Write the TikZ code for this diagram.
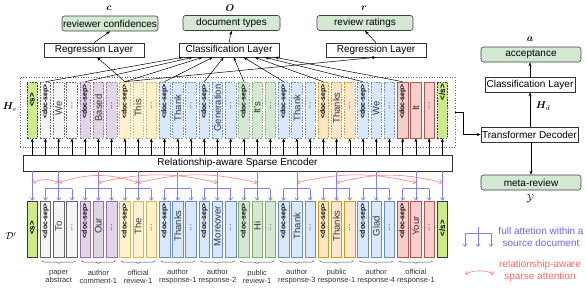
\documentclass[tikz,border=0pt]{standalone}
\usepackage{fontspec}
\setmainfont{Liberation Sans}
\usepackage{bm}
\usetikzlibrary{arrows.meta,decorations.pathreplacing,calc}
\definecolor{grayF}{HTML}{F5F5F5}\definecolor{grayD}{HTML}{666666}
\definecolor{purpF}{HTML}{E1D5E7}\definecolor{purpD}{HTML}{9673A6}
\definecolor{yelF}{HTML}{FFF2CC}\definecolor{yelD}{HTML}{D6B656}
\definecolor{bluF}{HTML}{DAE8FC}\definecolor{bluD}{HTML}{6C8EBF}
\definecolor{grnF}{HTML}{D5E8D4}\definecolor{grnD}{HTML}{82B366}
\definecolor{orgF}{HTML}{FFE6CC}\definecolor{orgD}{HTML}{D79B00}
\definecolor{redF}{HTML}{F8CECC}\definecolor{redD}{HTML}{B85450}
\definecolor{sF}{HTML}{CDEB8B}\definecolor{sD}{HTML}{36393D}
\definecolor{outF}{HTML}{D5E8D4}
\definecolor{attnB}{HTML}{7F7FFF}
\definecolor{attnR}{HTML}{FF7F7F}
\definecolor{legB}{HTML}{6666FF}
\definecolor{legR}{HTML}{FF6666}
\definecolor{txt}{HTML}{333333}
\begin{document}
\begin{tikzpicture}[x=1pt,y=-1pt,
  every node/.style={inner sep=0pt},
  font=\fontsize{10}{12}\selectfont,
  lay/.style={draw=black!80, fill=white, minimum width=#1, minimum height=14pt, line width=0.6pt},
  lay/.default=100pt,
  outb/.style={draw=black!75, fill=outF, rounded corners=2.5pt, minimum width=#1, minimum height=15pt, line width=0.6pt},
  outb/.default=100pt,
  tok/.style={minimum width=10.5pt, minimum height=56pt, line width=0.6pt},
  cgray/.style={fill=grayF, draw=grayD},
  cpurp/.style={fill=purpF, draw=purpD},
  cyel/.style={fill=yelF, draw=yelD},
  cblu/.style={fill=bluF, draw=bluD},
  cgrn/.style={fill=grnF, draw=grnD},
  corg/.style={fill=orgF, draw=orgD},
  cred/.style={fill=redF, draw=redD},
  cs/.style={fill=sF, draw=sD},
  dsh/.style={dash pattern=on 1.6pt off 1.2pt},
  dsep/.style={rotate=90, font=\bfseries\fontsize{6.9}{7}\selectfont, anchor=east},
  wrd/.style={rotate=90, font=\fontsize{9.5}{10}\selectfont, text=txt},
  dts/.style={rotate=90, font=\fontsize{8.5}{9}\selectfont, text=txt},
  sps/.style={rotate=90, font=\bfseries\fontsize{8}{9}\selectfont},
  ar/.style={-{Stealth[length=4pt,width=3pt]}, black, line width=0.5pt},
  bl/.style={draw=attnB, line width=0.7pt},
  bla/.style={bl, -{Straight Barb[length=2.5pt,width=4pt]}},
  rda/.style={draw=attnR, line width=0.6pt, {Straight Barb[length=2.5pt,width=4pt]}-{Straight Barb[length=2.5pt,width=4pt]}},
  brc/.style={decorate, decoration={brace, mirror, amplitude=2.5pt}, draw=black!70, line width=0.5pt},
  glab/.style={align=center, text=txt, font=\fontsize{7.5}{8}\selectfont}
]
\useasboundingbox (0,0) rectangle (586,290);

% H_e dotted frame
\node[draw=black!60, dotted, line width=0.6pt, minimum width=435pt, minimum height=70pt] (hebox) at (237.5,112) {};
\node (helab) at (10,107) {$\bm{H}_e$};
\node (dlab) at (11,236) {$\mathcal{D}'$};

% encoder
\node[lay=429pt, minimum height=16pt] (enc) at (237.5,163) {Relationship-aware Sparse Encoder};

% <s> and </s>
\node[tok, cs, dsh] (tS) at (32.25,110) {};
\node[sps] at (32.25,100) {<s>};
\node[tok, cs] (bS) at (32.25,229) {};
\node[sps] at (32.25,228) {<s>};
\node[tok, cs, dsh] (tE) at (442.38,110) {};
\node[sps] at (442.38,92) {</s>};
\node[tok, cs] (bE) at (442.38,229) {};
\node[sps] at (442.38,228) {</s>};
\draw[ar] (enc.north -| tS.south) -- (tS.south);
\draw[ar] (enc.north -| tE.south) -- (tE.south);
\draw[bla] (enc.south -| bS.north) -- (bS.north);
\draw[bla] (enc.south -| bE.north) -- (bE.north);

\foreach \k/\c/\tb/\tw/\bw/\lab in {
  1/cgray/dsh/We/To/paper\\abstract,
  2/cpurp/dsh/Based/Our/author\\comment-1,
  3/cyel/dsh/This/The/official\\review-1,
  4/cblu/dsh/Thank/Thanks/author\\response-1,
  5/cblu/dsh/Generation/Moreover/author\\response-2,
  6/cgrn/dsh/It's/Hi/public\\review-1,
  7/cblu/dsh/Thank/Thank/author\\response-3,
  8/corg/dsh/Thanks/Thanks/public\\response-1,
  9/cblu/dsh/We/Glad/author\\response-4,
  10/cred/solid/It/Your/official\\response-1}{
  \pgfmathsetmacro\xa{32.25+(3*\k-2)*13.23}
  \pgfmathsetmacro\xb{\xa+13.23}
  \pgfmathsetmacro\xc{\xa+26.46}
  % top row
  \node[tok,\c,\tb] (ta\k) at (\xa,110) {};
  \node[tok,\c,\tb] (tb\k) at (\xb,110) {};
  \node[tok,\c,\tb] (tc\k) at (\xc,110) {};
  \node[dsep] at (\xa,84) {<doc-sep>};
  \node[wrd] at (\xb,108) {\tw};
  \node[dts] at (\xc,106) {...};
  % bottom row
  \node[tok,\c] (ba\k) at (\xa,229) {};
  \node[tok,\c] (bb\k) at (\xb,229) {};
  \node[tok,\c] (bc\k) at (\xc,229) {};
  \node[dsep] at (\xa,203.5) {<doc-sep>};
  \node[wrd] at (\xb,226) {\bw};
  \node[dts] at (\xc,228) {...};
  % encoder to top
  \draw[ar] (enc.north -| ta\k.south) -- (ta\k.south);
  \draw[ar] (enc.north -| tb\k.south) -- (tb\k.south);
  \draw[ar] (enc.north -| tc\k.south) -- (tc\k.south);
  % encoder to bottom (full attention)
  \draw[bla] (enc.south -| bb\k.north) -- (bb\k.north);
  \draw[bl] ([yshift=12pt]ba\k.north) -- ([yshift=12pt]bc\k.north);
  \draw[bla] ([yshift=12pt]ba\k.north) -- (ba\k.north);
  \draw[bla] ([yshift=12pt]bc\k.north) -- (bc\k.north);
  % brace and label
  \draw[brc] ([xshift=1.5pt,yshift=-3.5pt]ba\k.south west) -- ([xshift=-1.5pt,yshift=-3.5pt]bc\k.south east);
  \node[glab] (gl\k) at (\xb,277) {\lab};
}

% relationship-aware sparse attention arcs
\draw[rda] ([yshift=18pt]bS.north) to[bend left=23] ([yshift=18pt]bb1.north);
\draw[rda] ([yshift=18pt]bb1.north) to[bend left=18] ([yshift=18pt]bb3.north);
\draw[rda] ([yshift=18pt]bb2.north) to[bend left=13] ([yshift=18pt]bb5.north);
\draw[rda] ([yshift=18pt]bb3.north) to[bend left=13] ([yshift=18pt]bb6.north);
\draw[rda] ([yshift=18pt]bb7.north) to[bend left=13] ([yshift=18pt]bb10.north);
\draw[rda] ([yshift=18pt]bb8.north) to[bend left=14] ([yshift=18pt]bE.north);

% top heads
\node[lay] (regl) at (94,50) {Regression Layer};
\node[lay] (clsl) at (229,50) {Classification Layer};
\node[lay] (regr) at (376,50) {Regression Layer};
\node[outb=96pt] (conf) at (110,23.5) {reviewer confidences};
\node[outb=97pt] (dtyp) at (231.5,23) {document types};
\node[outb=96pt] (rrat) at (365,23) {review ratings};
\node (clab) at (109,8) {$\bm{c}$};
\node (olab) at (230,8) {$\bm{O}$};
\node (rlab) at (364,8) {$\bm{r}$};
\draw[ar] (regl.north) -- (conf.south);
\draw[ar] (clsl.north) -- (dtyp.south);
\draw[ar] (regr.north) -- (rrat.south);

% doc-sep tokens to heads
\foreach \k/\off in {1/4,2/14,3/24,4/34,5/45,6/55,7/65,8/76,9/86,10/96}{
  \draw[ar] (ta\k.north) -- ([xshift=\off pt]clsl.south west);
}
\draw[ar] (ta3.north) -- ([xshift=3pt]regl.south);
\draw[ar] (ta3.north) -- (regr.south);

% right panel
\node[outb] (acc) at (531,54.5) {acceptance};
\node[lay=90pt, minimum height=15pt] (clsr) at (530,84.5) {Classification Layer};
\node[lay=97pt, minimum height=15pt] (dec) at (529.5,134.5) {Transformer Decoder};
\node[outb] (meta) at (531,182.5) {meta-review};
\node (alab) at (530,39) {$\bm{a}$};
\node (hdlab) at (543,106) {$\bm{H}_d$};
\node (ylab) at (530,199) {$\mathcal{Y}$};
\draw[ar] (dec.north -| clsr.south) -- (clsr.south);
\draw[ar] (clsr.north) -- (clsr.north |- acc.south);
\draw[ar] (dec.south -| meta.north) -- (meta.north);
\draw[ar] (hebox.east) -- ++(8,0) |- (dec.west);

% legend
\coordinate (lgs) at (478,227);
\coordinate (lgm) at (478,233);
\coordinate (lgl) at (465,233);
\coordinate (lgr) at (491,233);
\coordinate (lgbm) at (478,247);
\coordinate (lgbl) at (465,247);
\coordinate (lgbr) at (491,247);
\draw[bl] (lgs) -- (lgm);
\draw[bl] (lgl) -- (lgr);
\draw[bla] (lgm) -- (lgbm);
\draw[bla] (lgl) -- (lgbl);
\draw[bla] (lgr) -- (lgbr);
\node[text=legB, align=center] (lgt1) at (541,237) {full attetion within a\\source document};
\coordinate (lra) at (465,274);
\coordinate (lrb) at (494,274);
\draw[rda] (lra) to[bend left=22] (lrb);
\node[text=legR, align=center] (lgt2) at (540,271) {relationship-aware\\sparse attention};
\end{tikzpicture}
\end{document}
